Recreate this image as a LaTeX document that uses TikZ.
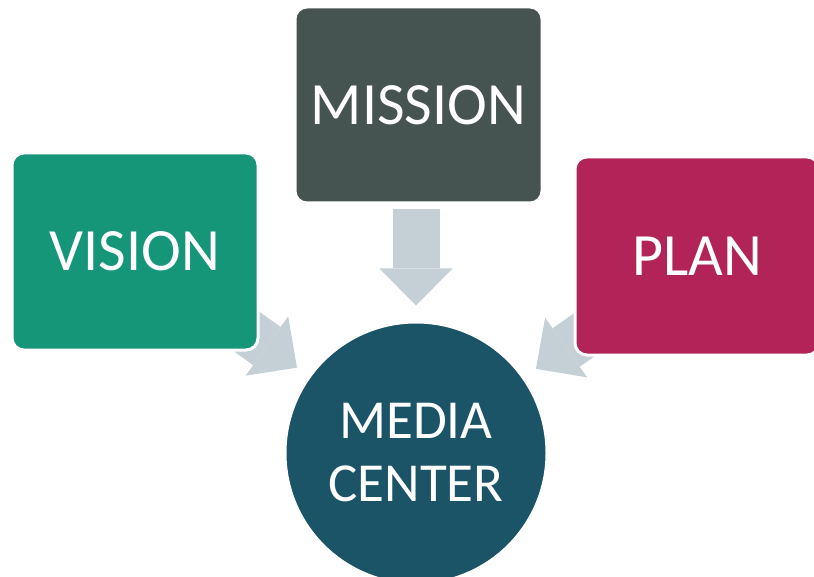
\documentclass[tikz,border=0pt]{standalone}
\usepackage{fontspec}
\setmainfont{Carlito}
\usetikzlibrary{arrows.meta}
\definecolor{visioncol}{RGB}{22,150,120}
\definecolor{missioncol}{RGB}{70,84,81}
\definecolor{plancol}{RGB}{178,36,88}
\definecolor{mediacol}{RGB}{27,84,103}
\definecolor{arrowcol}{RGB}{196,207,214}
\pgfdeclarelayer{bg}
\pgfsetlayers{bg,main}
\begin{document}
\begin{tikzpicture}[x=1pt,y=-1pt,
  box/.style={rectangle, rounded corners=12pt, draw=white, line width=3pt,
    text=white, inner sep=0pt, font=\fontsize{60}{60}\selectfont},
  bigarrow/.style={draw=arrowcol, line width=47pt,
    -{Triangle[length=37pt,width=73pt,line width=0pt,fill=arrowcol,color=arrowcol]}}
]
\useasboundingbox (0,0) rectangle (814,577);
\node[box, fill=visioncol, minimum width=246pt, minimum height=197pt] (vision) at (135,251.5) {VISION};
\node[box, fill=missioncol, minimum width=247pt, minimum height=196pt] (mission) at (418.5,105) {MISSION};
\node[box, fill=plancol, minimum width=244pt, minimum height=198pt] (plan) at (697,256) {PLAN};
\node[circle, fill=mediacol, draw=white, line width=3pt, minimum size=262pt, inner sep=0pt,
  text=white, align=center, font=\fontsize{55}{63}\selectfont] (media) at (416,453) {MEDIA\\CENTER};
\begin{pgfonlayer}{bg}
\fill[white] (0,0) rectangle (814,577);
\draw[bigarrow, shorten <=-40pt, shorten >=14pt] (vision) -- (media);
\draw[bigarrow, shorten <=-40pt, shorten >=14pt] (plan) -- (media);
\draw[bigarrow, shorten <=5pt, shorten >=15pt] (media.north |- mission.south) -- (media.north);
\end{pgfonlayer}
\end{tikzpicture}
\end{document}
